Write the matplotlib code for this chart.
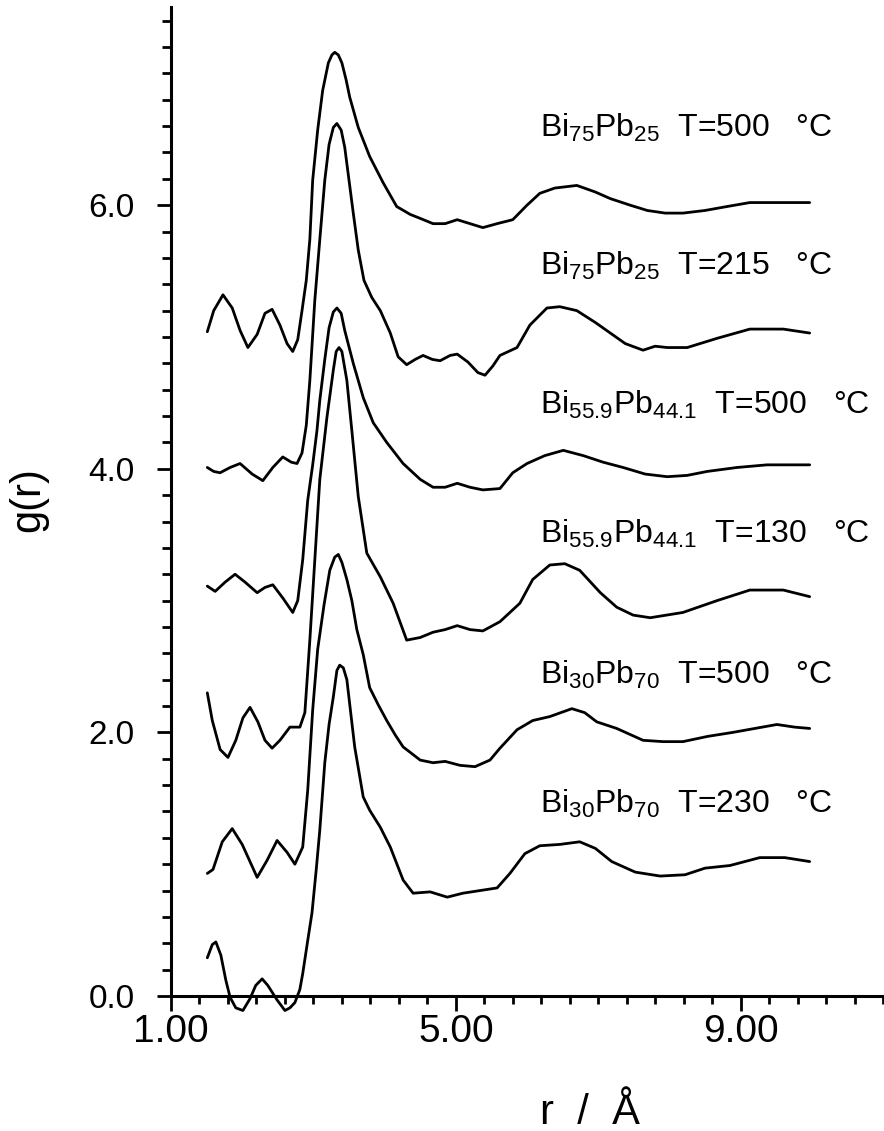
import numpy as np
import matplotlib
matplotlib.use('Agg')
import matplotlib.pyplot as plt
from matplotlib.ticker import FixedLocator

#################################
# pair distribution functions g(r) of liquid Bi-Pb alloys
# curves shifted upward by one unit each
#################################

plt.rcParams['font.family'] = ['Liberation Sans', 'DejaVu Sans']
plt.rcParams['mathtext.fontset'] = 'custom'
plt.rcParams['mathtext.rm'] = 'Liberation Sans'
plt.rcParams['mathtext.default'] = 'regular'

# Bi75Pb25  T=500 C
r_a = [1.51, 1.60, 1.73, 1.86, 1.97, 2.08, 2.21, 2.32, 2.42, 2.53, 2.63, 2.71, 2.78, 2.84,
       2.90, 2.95, 2.99, 3.06, 3.13, 3.21, 3.26, 3.30, 3.35, 3.40, 3.46, 3.51, 3.63, 3.79,
       3.98, 4.17, 4.36, 4.50, 4.68, 4.85, 5.02, 5.20, 5.38, 5.58, 5.80, 6.00, 6.18, 6.39,
       6.70, 6.96, 7.17, 7.45, 7.69, 7.94, 8.19, 8.50, 8.81, 9.13, 9.55, 9.97]
g_a = [0.04, 0.20, 0.32, 0.22, 0.05, -0.08, 0.02, 0.18, 0.21, 0.09, -0.05, -0.11, -0.02, 0.20,
       0.43, 0.74, 1.19, 1.57, 1.87, 2.08, 2.14, 2.16, 2.14, 2.08, 1.95, 1.82, 1.59, 1.37,
       1.17, 0.99, 0.93, 0.90, 0.86, 0.86, 0.89, 0.86, 0.83, 0.86, 0.89, 1.00, 1.09, 1.13,
       1.15, 1.10, 1.05, 1.00, 0.96, 0.94, 0.94, 0.96, 0.99, 1.02, 1.02, 1.02]

# Bi75Pb25  T=215 C
r_b = [1.51, 1.60, 1.69, 1.83, 1.97, 2.14, 2.29, 2.43, 2.57, 2.69, 2.77, 2.84, 2.90, 2.95,
       3.02, 3.09, 3.16, 3.22, 3.28, 3.33, 3.39, 3.44, 3.50, 3.56, 3.63, 3.71, 3.82, 3.94,
       4.08, 4.19, 4.31, 4.43, 4.54, 4.67, 4.78, 4.92, 5.02, 5.17, 5.31, 5.41, 5.52, 5.62,
       5.86, 6.04, 6.28, 6.46, 6.70, 6.96, 7.17, 7.38, 7.63, 7.80, 7.97, 8.25, 8.67, 9.13,
       9.60, 9.97]
g_b = [0.01, -0.02, -0.03, 0.01, 0.04, -0.04, -0.09, 0.01, 0.09, 0.05, 0.04, 0.12, 0.33, 0.67,
       1.28, 1.74, 2.19, 2.46, 2.59, 2.62, 2.57, 2.44, 2.19, 1.94, 1.66, 1.43, 1.30, 1.20,
       1.03, 0.85, 0.79, 0.83, 0.86, 0.83, 0.82, 0.86, 0.87, 0.81, 0.73, 0.71, 0.78, 0.86,
       0.92, 1.09, 1.22, 1.23, 1.20, 1.11, 1.03, 0.95, 0.90, 0.93, 0.92, 0.92, 0.99, 1.06,
       1.06, 1.03]

# Bi55.9Pb44.1  T=500 C
r_c = [1.51, 1.62, 1.76, 1.90, 2.04, 2.21, 2.32, 2.43, 2.57, 2.71, 2.78, 2.85, 2.92, 2.99,
       3.05, 3.09, 3.16, 3.22, 3.28, 3.33, 3.39, 3.44, 3.56, 3.70, 3.84, 4.03, 4.26, 4.50,
       4.68, 4.85, 5.02, 5.20, 5.38, 5.62, 5.80, 6.00, 6.25, 6.51, 6.79, 7.07, 7.35, 7.66,
       7.97, 8.25, 8.53, 8.95, 9.37, 9.97]
g_c = [0.11, 0.07, 0.14, 0.20, 0.14, 0.06, 0.10, 0.12, 0.02, -0.09, 0.00, 0.31, 0.76, 1.03,
       1.29, 1.52, 1.83, 2.07, 2.19, 2.22, 2.18, 2.05, 1.80, 1.54, 1.35, 1.20, 1.04, 0.92,
       0.86, 0.86, 0.89, 0.86, 0.84, 0.85, 0.97, 1.04, 1.10, 1.14, 1.10, 1.05, 1.01, 0.96,
       0.94, 0.95, 0.98, 1.01, 1.03, 1.03]

# Bi55.9Pb44.1  T=130 C
r_d = [1.51, 1.58, 1.69, 1.80, 1.91, 2.01, 2.11, 2.22, 2.32, 2.42, 2.53, 2.67, 2.81, 2.88,
       2.95, 3.02, 3.09, 3.19, 3.28, 3.32, 3.36, 3.40, 3.47, 3.54, 3.63, 3.75, 3.94, 4.12,
       4.31, 4.50, 4.68, 4.85, 5.02, 5.20, 5.38, 5.62, 5.90, 6.08, 6.32, 6.53, 6.74, 7.03,
       7.26, 7.49, 7.73, 8.19, 8.67, 9.13, 9.60, 9.97]
g_d = [0.30, 0.09, -0.13, -0.19, -0.06, 0.11, 0.19, 0.08, -0.06, -0.12, -0.06, 0.04, 0.04, 0.15,
       0.70, 1.31, 1.92, 2.39, 2.75, 2.89, 2.92, 2.89, 2.67, 2.29, 1.79, 1.36, 1.18, 0.98,
       0.70, 0.72, 0.76, 0.78, 0.81, 0.78, 0.77, 0.84, 0.98, 1.16, 1.27, 1.28, 1.23, 1.06,
       0.95, 0.89, 0.87, 0.91, 1.00, 1.08, 1.08, 1.03]

# Bi30Pb70  T=500 C
r_e = [1.51, 1.59, 1.72, 1.86, 2.00, 2.21, 2.35, 2.49, 2.63, 2.74, 2.85, 2.92, 2.99, 3.06,
       3.15, 3.23, 3.30, 3.35, 3.40, 3.47, 3.54, 3.61, 3.70, 3.79, 3.91, 4.03, 4.15, 4.26,
       4.50, 4.68, 4.85, 5.06, 5.27, 5.48, 5.62, 5.86, 6.08, 6.32, 6.63, 6.81, 6.98, 7.26,
       7.63, 7.91, 8.19, 8.54, 8.89, 9.20, 9.51, 9.76, 9.97]
g_e = [-0.07, -0.04, 0.17, 0.27, 0.15, -0.10, 0.03, 0.18, 0.09, 0.00, 0.13, 0.56, 1.17, 1.63,
       1.97, 2.23, 2.33, 2.35, 2.29, 2.16, 2.00, 1.78, 1.59, 1.34, 1.21, 1.09, 0.98, 0.89,
       0.79, 0.77, 0.78, 0.75, 0.74, 0.79, 0.88, 1.02, 1.09, 1.12, 1.18, 1.15, 1.08, 1.03,
       0.94, 0.93, 0.93, 0.97, 1.00, 1.03, 1.06, 1.04, 1.03]

# Bi30Pb70  T=230 C
r_f = [1.51, 1.58, 1.63, 1.70, 1.77, 1.83, 1.91, 2.01, 2.11, 2.19, 2.28, 2.36, 2.49, 2.60,
       2.67, 2.74, 2.81, 2.85, 2.92, 2.98, 3.04, 3.09, 3.16, 3.22, 3.28, 3.33, 3.37, 3.42,
       3.47, 3.58, 3.70, 3.79, 3.94, 4.08, 4.26, 4.40, 4.64, 4.88, 5.10, 5.34, 5.58, 5.76,
       5.97, 6.18, 6.46, 6.74, 6.96, 7.19, 7.52, 7.87, 8.22, 8.50, 8.85, 9.27, 9.62, 9.97]
g_f = [0.29, 0.39, 0.41, 0.31, 0.12, -0.01, -0.09, -0.11, -0.02, 0.08, 0.13, 0.08, -0.03, -0.11,
       -0.09, -0.05, 0.05, 0.17, 0.42, 0.63, 0.96, 1.26, 1.77, 2.06, 2.27, 2.47, 2.51, 2.49,
       2.40, 1.89, 1.51, 1.41, 1.28, 1.13, 0.88, 0.78, 0.79, 0.75, 0.78, 0.80, 0.82, 0.93,
       1.08, 1.14, 1.15, 1.17, 1.12, 1.02, 0.94, 0.91, 0.92, 0.97, 0.99, 1.05, 1.05, 1.02]

curves_r = [r_a, r_b, r_c, r_d, r_e, r_f]
curves_g = [g_a, g_b, g_c, g_d, g_e, g_f]
shifts = [5, 4, 3, 2, 1, 0]

labels = ['Bi$_{75}$Pb$_{25}$  T=500   °C',
          'Bi$_{75}$Pb$_{25}$  T=215   °C',
          'Bi$_{55.9}$Pb$_{44.1}$  T=500   °C',
          'Bi$_{55.9}$Pb$_{44.1}$  T=130   °C',
          'Bi$_{30}$Pb$_{70}$  T=500   °C',
          'Bi$_{30}$Pb$_{70}$  T=230   °C']
label_x = 6.18
label_y = [6.52, 5.47, 4.42, 3.44, 2.37, 1.39]

xticks = [1.0, 5.0, 9.0]
xticklabels = ['1.00', '5.00', '9.00']
yticks = [0.0, 2.0, 4.0, 6.0]
yticklabels = ['0.0', '2.0', '4.0', '6.0']

####################################################
fig = plt.figure(figsize=(8.84, 11.31), dpi=100)
ax = fig.add_axes([171/884, 135/1131, 712/884, 988.5/1131])

for r, g, s in zip(curves_r, curves_g, shifts):
    ax.plot(r, np.array(g) + s, color='black', lw=2.0, clip_on=False,
            solid_joinstyle='round', solid_capstyle='round')

for txt, yl in zip(labels, label_y):
    ax.text(label_x, yl, txt, fontsize=23, ha='left', va='baseline')

ax.set_xlim(1.0, 11.0)
ax.set_ylim(0.0, 7.5)

ax.spines['top'].set_visible(False)
ax.spines['right'].set_visible(False)
ax.spines['left'].set_linewidth(2.2)
ax.spines['bottom'].set_linewidth(2.2)

ax.set_xticks(xticks)
ax.set_xticklabels(xticklabels)
ax.xaxis.set_minor_locator(FixedLocator(np.arange(1.0, 11.01, 0.4)))
ax.set_yticks(yticks)
ax.set_yticklabels(yticklabels)
ax.yaxis.set_minor_locator(FixedLocator(np.arange(0.0, 7.41, 0.2)))

ax.tick_params(axis='x', which='major', direction='out', length=11, width=2.0,
               labelsize=28, pad=2)
ax.tick_params(axis='x', which='minor', direction='out', length=6, width=2.0)
ax.tick_params(axis='y', which='major', direction='out', length=10, width=2.0,
               labelsize=24, pad=16)
ax.tick_params(axis='y', which='minor', direction='out', length=6.5, width=2.0)

ax.set_ylabel('g(r)', fontsize=30)
ax.yaxis.set_label_coords(-0.172, 0.502)
ax.set_xlabel('r  /  Å', fontsize=30)
ax.xaxis.set_label_coords(0.588, -0.098)

fig.savefig('out.png', dpi=100)
